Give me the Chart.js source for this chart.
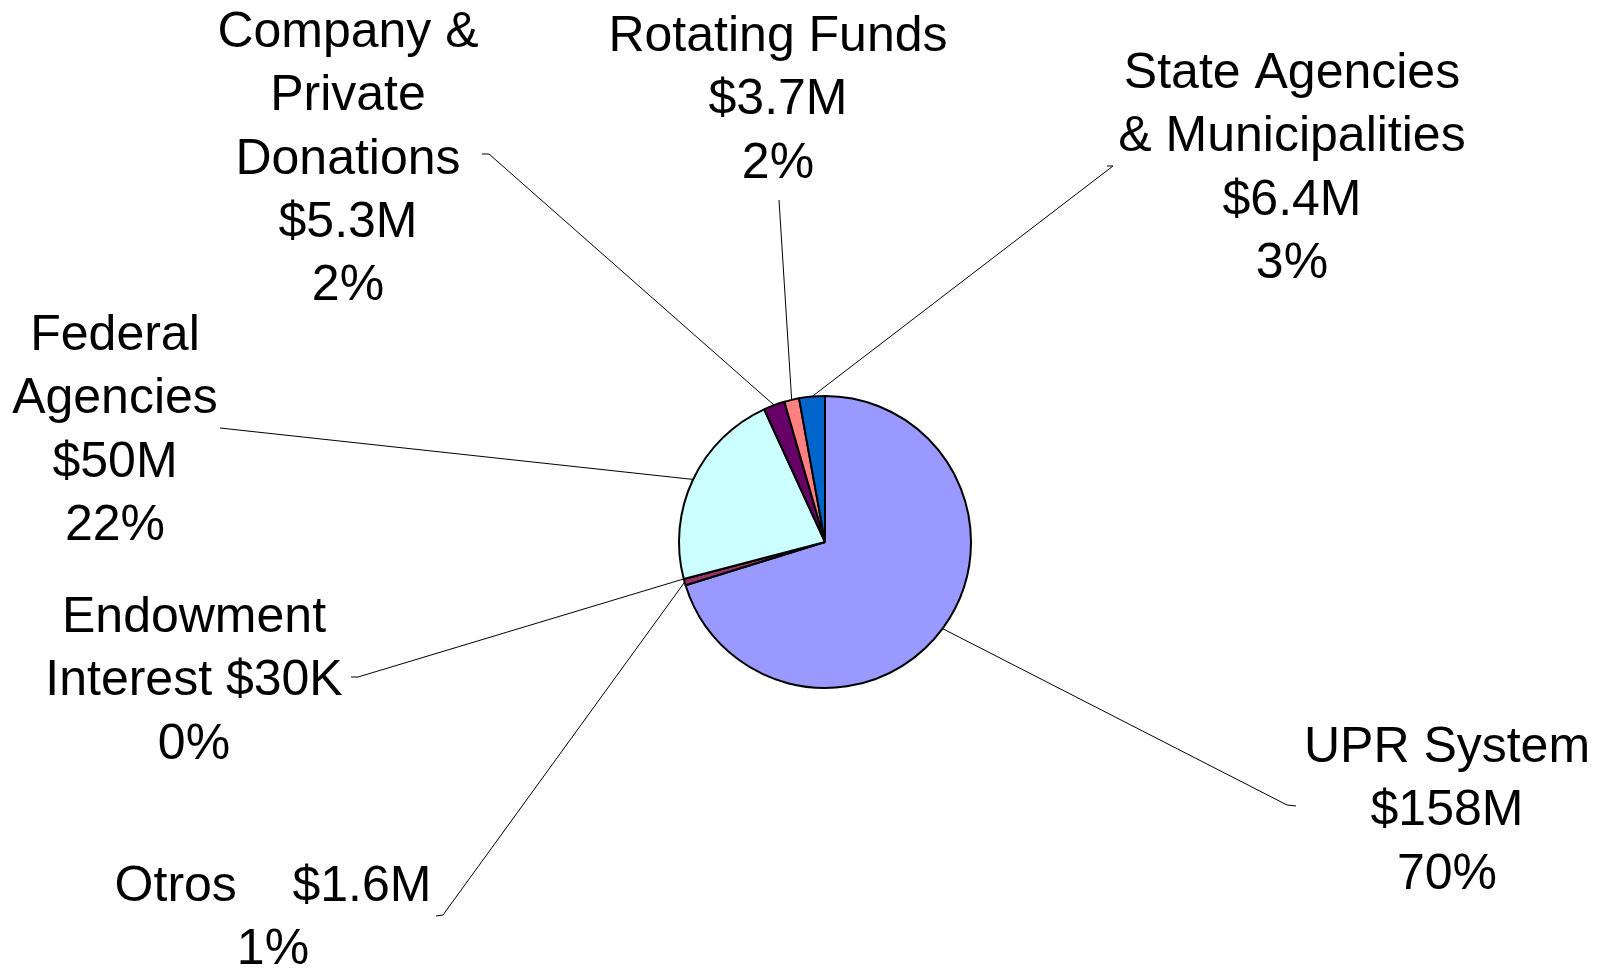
<!DOCTYPE html>
<html>
<head>
<meta charset="utf-8">
<script src="https://cdn.jsdelivr.net/npm/chart.js@4/dist/chart.umd.min.js"></script>
<style>
  html, body { margin: 0; padding: 0; background: #fff; }
  #wrap { width: 1604px; height: 969px; }
</style>
</head>
<body>
<div id="wrap"><canvas id="pie" width="1604" height="969"></canvas></div>
<script>
// data ($ millions)
const categories = ["UPR System", "Otros", "Endowment Interest", "Federal Agencies",
                    "Company & Private Donations", "Rotating Funds", "State Agencies & Municipalities"];
const values = [158, 1.6, 0.03, 50, 5.3, 3.7, 6.4];
const colors = ["#9999FF", "#993366", "#FFFFCC", "#CCFFFF", "#660066", "#FF8080", "#0066CC"];

// how each label's name is broken into lines (value goes on the last line when joined)
const nameLines = [
  ["UPR System"],
  ["Otros    "],
  ["Endowment", "Interest "],
  ["Federal", "Agencies"],
  ["Company &", "Private", "Donations"],
  ["Rotating Funds"],
  ["State Agencies", "& Municipalities"]
];
const joinValue = [false, true, true, false, false, false, false];

// label placement: centre x, first baseline, leader elbow and leader end
const labelPos = [
  { x: 1447, y: 762, elbow: [1287, 805], end: [1296, 806] },
  { x: 273,  y: 901, elbow: [443, 915],  end: [436, 916] },
  { x: 194,  y: 632, elbow: [358, 677],  end: [351, 677] },
  { x: 115,  y: 350, elbow: [220, 428],  end: [220, 428] },
  { x: 348,  y: 47,  elbow: [489, 154],  end: [482, 154] },
  { x: 778,  y: 51,  elbow: [779, 200],  end: [779, 200] },
  { x: 1292, y: 88,  elbow: [1113, 166], end: [1107, 166] }
];
const lineGap = 63.3;

const total = values.reduce((a, b) => a + b, 0);

function fmtValue(v) {
  if (v < 1) return "$" + Math.round(v * 1000) + "K";
  if (v >= 10) return "$" + Math.round(v) + "M";
  return "$" + v.toFixed(1) + "M";
}

function labelLines(i) {
  const lines = nameLines[i].slice();
  const val = fmtValue(values[i]);
  if (joinValue[i]) lines[lines.length - 1] += val;
  else lines.push(val);
  lines.push(Math.round(values[i] / total * 100) + "%");
  return lines;
}

/* labels + leader lines */
const labelPlugin = {
  id: "pieLabels",
  afterDraw(chart) {
    const ctx = chart.ctx;
    const arcs = chart.getDatasetMeta(0).data;
    ctx.save();
    arcs.forEach((arc, i) => {
      const p = arc.getProps(["x", "y", "startAngle", "endAngle", "outerRadius"], true);
      const mid = (p.startAngle + p.endAngle) / 2;
      const sx = p.x + Math.cos(mid) * p.outerRadius;
      const sy = p.y + Math.sin(mid) * p.outerRadius;
      const lp = labelPos[i];
      ctx.strokeStyle = "#000";
      ctx.lineWidth = 1;
      ctx.beginPath();
      ctx.moveTo(sx, sy);
      ctx.lineTo(lp.elbow[0], lp.elbow[1]);
      ctx.lineTo(lp.end[0], lp.end[1]);
      ctx.stroke();

      ctx.fillStyle = "#000";
      ctx.font = "50px 'Liberation Sans', Arial, sans-serif";
      ctx.textAlign = "center";
      ctx.textBaseline = "alphabetic";
      labelLines(i).forEach((line, k) => {
        ctx.fillText(line, lp.x, lp.y + k * lineGap);
      });
    });
    ctx.restore();
  }
};

const whiteBg = {
  id: "whiteBg",
  beforeDraw(chart) {
    const ctx = chart.ctx;
    ctx.save();
    ctx.fillStyle = "#fff";
    ctx.fillRect(0, 0, chart.width, chart.height);
    ctx.restore();
  }
};

new Chart(document.getElementById("pie"), {
  type: "pie",
  data: {
    labels: categories,
    datasets: [{
      data: values,
      backgroundColor: colors,
      borderColor: "#000",
      borderWidth: 2
    }]
  },
  options: {
    responsive: false,
    animation: false,
    radius: 146,
    layout: { padding: { left: 525, right: 479, top: 242, bottom: 127 } },
    plugins: {
      legend: { display: false },
      tooltip: { enabled: false }
    }
  },
  plugins: [whiteBg, labelPlugin]
});
</script>
</body>
</html>
